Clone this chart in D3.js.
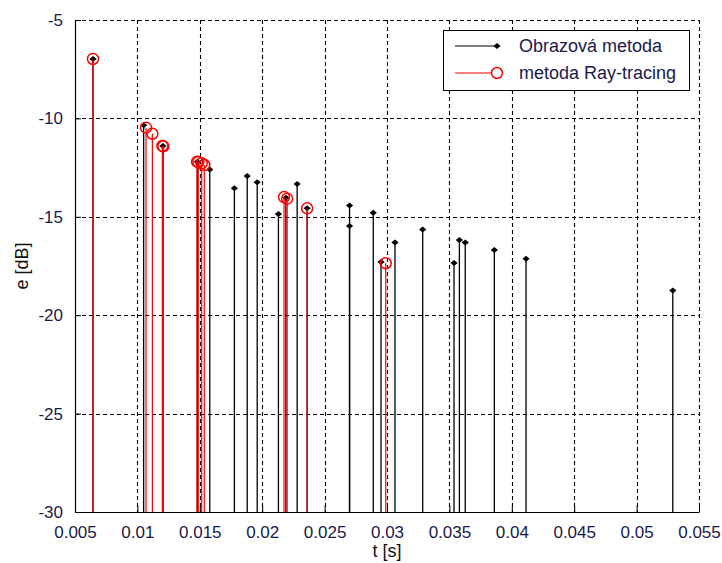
<!DOCTYPE html>
<html>
<head>
<meta charset="utf-8">
<script src="https://cdn.jsdelivr.net/npm/d3@7"></script>
<style>
  html, body { margin: 0; padding: 0; background: #fff; }
  svg { display: block; font-family: "Liberation Sans", Arial, sans-serif; }
</style>
</head>
<body>
<svg id="chart" width="722" height="563"></svg>
<script>
// Echogram: image-source method vs. ray tracing
const imageT = [0.00644, 0.0105, 0.01205, 0.0148, 0.0158, 0.01777, 0.0188, 0.0196, 0.0213, 0.0219,
                0.0228, 0.0236, 0.0270, 0.0270, 0.0289, 0.02952, 0.03064, 0.03286, 0.03537, 0.0358,
                0.03627, 0.0386, 0.04114, 0.0529];
const imageE = [-6.98, -10.35, -11.4, -12.2, -12.6, -13.55, -12.93, -13.25, -14.86, -14.03,
                -13.33, -14.57, -14.42, -15.47, -14.79, -17.3, -16.31, -15.64, -17.35, -16.18,
                -16.31, -16.69, -17.13, -18.75];

const rayT = [0.00644, 0.01069, 0.0112, 0.0120, 0.01208, 0.01478, 0.01488, 0.01515, 0.01536,
              0.02175, 0.0220, 0.0236, 0.0299];
const rayE = [-6.98, -10.47, -10.78, -11.4, -11.42, -12.2, -12.22, -12.28, -12.37,
              -14.0, -14.08, -14.57, -17.36];

const xTicks = [0.005, 0.01, 0.015, 0.02, 0.025, 0.03, 0.035, 0.04, 0.045, 0.05, 0.055];
const yTicks = [-30, -25, -20, -15, -10, -5];
const legendLabels = ["Obrazová metoda", "metoda Ray-tracing"];

const svg = d3.select("#chart");
const plotLeft = 75, plotRight = 699, plotTop = 20, plotBottom = 512;
const textColor = "#1a1a4a";

const x = d3.scaleLinear().domain([0.005, 0.055]).range([plotLeft, plotRight]);
const y = d3.scaleLinear().domain([-30, -5]).range([plotBottom, plotTop]);

// grid
const grid = svg.append("g").attr("stroke", "#000").attr("stroke-width", 1.1)
  .attr("stroke-dasharray", "4,3").attr("fill", "none");
xTicks.slice(1).forEach(t => {
  grid.append("line").attr("x1", Math.round(x(t)) + 0.5).attr("x2", Math.round(x(t)) + 0.5)
    .attr("y1", plotTop).attr("y2", plotBottom);
});
yTicks.slice(1).forEach(v => {
  grid.append("line").attr("x1", plotLeft).attr("x2", plotRight)
    .attr("y1", Math.round(y(v)) + 0.5).attr("y2", Math.round(y(v)) + 0.5);
});

// axes
const xAxis = d3.axisBottom(x).tickValues(xTicks).tickSizeInner(-6).tickSizeOuter(0)
  .tickPadding(14).tickFormat(d => String(+d.toFixed(3)));
const yAxis = d3.axisLeft(y).tickValues(yTicks).tickSizeInner(-6).tickSizeOuter(0)
  .tickPadding(12).tickFormat(d => String(d));

const gx = svg.append("g").attr("transform", `translate(0,${plotBottom})`).call(xAxis);
const gy = svg.append("g").attr("transform", `translate(${plotLeft},0)`).call(yAxis);
[gx, gy].forEach(g => {
  g.select(".domain").attr("stroke", "#000").attr("stroke-width", 1.2);
  g.selectAll(".tick line").attr("stroke", "#000");
  g.selectAll(".tick text").attr("fill", textColor).attr("font-size", 17)
    .attr("font-family", "'Liberation Sans', Arial, sans-serif");
});

// stems: image-source method
const blackMarker = "M-3.6,0 L0,-3 L3.6,0 L0,3 Z";
const gb = svg.append("g");
imageT.forEach((t, i) => {
  gb.append("line").attr("x1", x(t)).attr("x2", x(t)).attr("y1", y(-30)).attr("y2", y(imageE[i]))
    .attr("stroke", "#000").attr("stroke-width", 1.3);
});
imageT.forEach((t, i) => {
  gb.append("path").attr("d", blackMarker)
    .attr("transform", `translate(${x(t)},${y(imageE[i])})`).attr("fill", "#000");
});

// stems: ray tracing
const gr = svg.append("g");
rayT.forEach((t, i) => {
  gr.append("line").attr("x1", x(t)).attr("x2", x(t)).attr("y1", y(-30)).attr("y2", y(rayE[i]))
    .attr("stroke", "#ff0000").attr("stroke-width", 1.2);
});
rayT.forEach((t, i) => {
  gr.append("circle").attr("cx", x(t)).attr("cy", y(rayE[i])).attr("r", 5.5)
    .attr("fill", "none").attr("stroke", "#ff0000").attr("stroke-width", 1.5);
});

// legend
const lg = svg.append("g");
lg.append("rect").attr("x", 443.5).attr("y", 30.5).attr("width", 246).attr("height", 60)
  .attr("fill", "#fff").attr("stroke", "#000").attr("stroke-width", 1);
const rows = [46, 73];
lg.append("line").attr("x1", 455).attr("x2", 497).attr("y1", rows[0]).attr("y2", rows[0])
  .attr("stroke", "#000").attr("stroke-width", 1.2);
lg.append("path").attr("d", blackMarker).attr("transform", `translate(497,${rows[0]})`).attr("fill", "#000");
lg.append("line").attr("x1", 455).attr("x2", 497).attr("y1", rows[1]).attr("y2", rows[1])
  .attr("stroke", "#ff0000").attr("stroke-width", 1.2);
lg.append("circle").attr("cx", 497).attr("cy", rows[1]).attr("r", 5.5)
  .attr("fill", "#fff").attr("stroke", "#ff0000").attr("stroke-width", 1.5);
legendLabels.forEach((s, i) => {
  lg.append("text").attr("x", 519).attr("y", rows[i]).attr("dy", "0.35em")
    .attr("font-size", 18).attr("fill", textColor).text(s);
});

// axis titles
svg.append("text").attr("x", (plotLeft + plotRight) / 2).attr("y", 551).attr("dy", "0.35em")
  .attr("text-anchor", "middle").attr("font-size", 18).attr("fill", "#111").text("t [s]");
svg.append("text").attr("transform", `translate(22,${(plotTop + plotBottom) / 2}) rotate(-90)`)
  .attr("dy", "0.35em").attr("text-anchor", "middle").attr("font-size", 18).attr("fill", "#111")
  .text("e [dB]");
</script>
</body>
</html>
